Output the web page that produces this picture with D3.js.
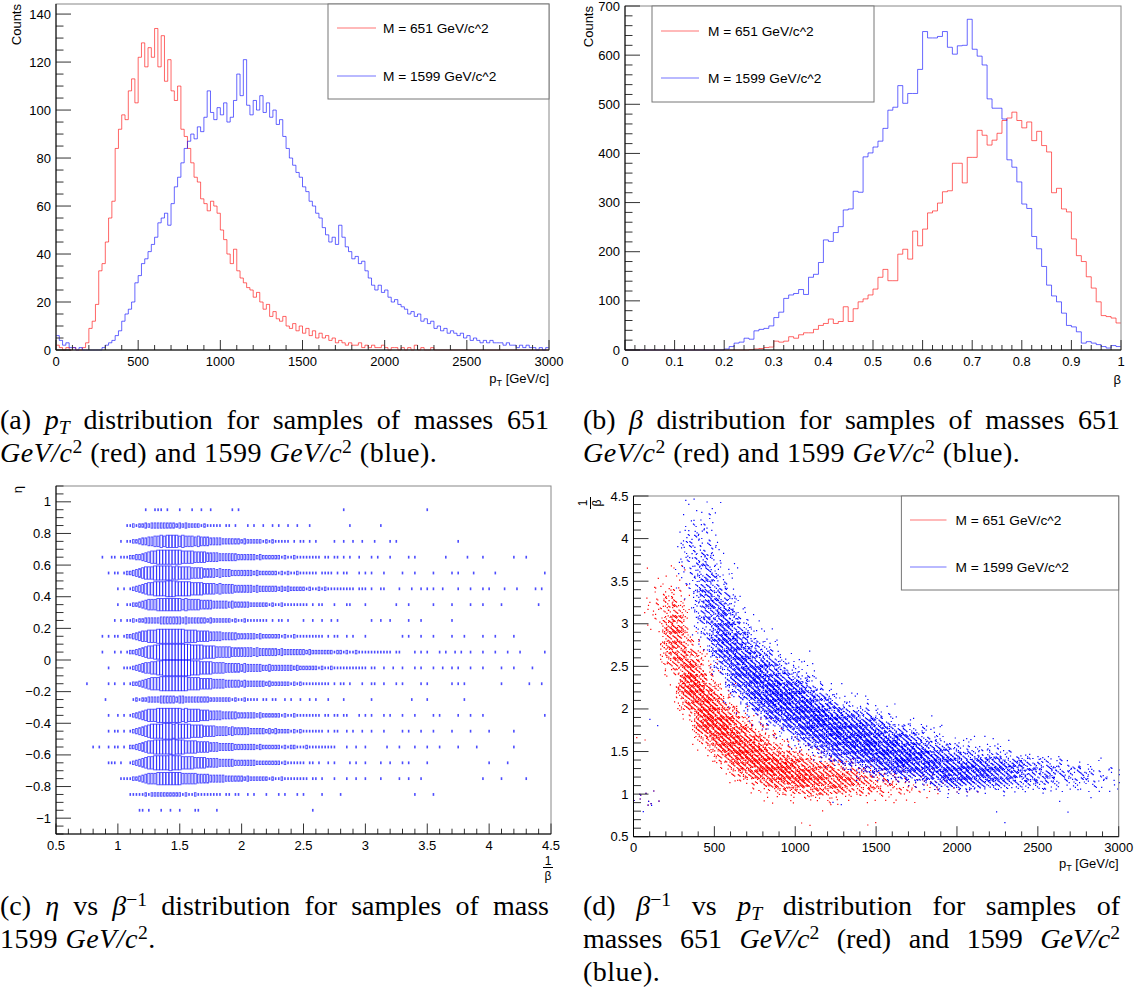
<!DOCTYPE html>
<html>
<head>
<meta charset="utf-8">
<script src="https://cdnjs.cloudflare.com/ajax/libs/d3/7.8.5/d3.min.js"></script>
<style>
  body { margin: 0; background: #fff; }
  #fig { position: relative; width: 1136px; height: 988px; overflow: hidden; background: #fff; }
  #fig svg { position: absolute; left: 0; top: 0; }
  .cap { position: absolute; font-family: "Liberation Serif", "Times New Roman", serif; font-size: 28px;
         line-height: 33px; white-space: nowrap; color: #000; }
  .cap.j { text-align: justify; text-align-last: justify; white-space: normal; }
  .cap sup { font-size: 70%; line-height: 0; vertical-align: 0.45em; }
  .cap sub { font-size: 70%; line-height: 0; vertical-align: -0.25em; }
  svg text { font-family: "Liberation Sans", Arial, sans-serif; fill: #000; }
</style>
</head>
<body>
<div id="fig">
  <div class="cap j" style="left:0;top:403px;width:549px">(a) <i>p<sub>T</sub></i> distribution for samples of masses 651</div>
  <div class="cap" style="left:0;top:436px;letter-spacing:0.5px"><i>GeV/c</i><sup>2</sup> (red) and 1599 <i>GeV/c</i><sup>2</sup> (blue).</div>
  <div class="cap j" style="left:583px;top:403px;width:537px">(b) <i>β</i> distribution for samples of masses 651</div>
  <div class="cap" style="left:583px;top:436px;letter-spacing:0.5px"><i>GeV/c</i><sup>2</sup> (red) and 1599 <i>GeV/c</i><sup>2</sup> (blue).</div>
  <div class="cap j" style="left:0;top:889px;width:549px">(c) <i>η</i> vs <i>β</i><sup>−1</sup> distribution for samples of mass</div>
  <div class="cap" style="left:0;top:922px;letter-spacing:0.5px">1599 <i>GeV/c</i><sup>2</sup>.</div>
  <div class="cap j" style="left:583px;top:889px;width:537px">(d) <i>β</i><sup>−1</sup> vs <i>p<sub>T</sub></i> distribution for samples of</div>
  <div class="cap j" style="left:583px;top:922px;width:537px">masses 651 <i>GeV/c</i><sup>2</sup> (red) and 1599 <i>GeV/c</i><sup>2</sup></div>
  <div class="cap" style="left:583px;top:955px;letter-spacing:0.5px">(blue).</div>
</div>
<script>
// ---- data ----

// (a) pT histograms, 20 GeV bins from 0 to 3000
const ptBinWidth = 20;
const ptRed = [
  2,1,0,1,0,1,0,0,1,3,
  9,12,19,33,36,45,55,62,84,92,
  98,96,108,113,103,122,128,118,126,122,
  134,118,131,112,121,108,104,110,92,89,
  84,78,72,70,63,61,58,62,60,57,
  50,46,40,36,42,33,30,28,26,25,
  22,24,20,17,19,14,16,13,12,14,
  10,9,11,8,10,7,9,6,8,5,
  7,5,6,4,5,3,4,3,2,3,
  2,2,3,1,2,1,2,1,1,2,
  1,0,1,1,0,1,0,1,0,2,
  0,1,0,0,1,0,0,0,0,0,
  0,0,0,0,0,0,0,0,0,0,
  0,0,0,0,0,0,0,0,0,0,
  0,0,0,0,0,0,0,0,0,0
];
const ptBlue = [
  6,4,2,3,1,1,0,1,0,0,
  0,0,0,0,1,2,3,4,6,8,
  12,15,17,20,28,31,36,38,41,44,
  47,53,55,57,52,61,68,72,78,84,
  87,90,88,93,91,97,108,99,96,101,
  98,103,95,97,104,115,106,121,102,98,
  104,100,106,99,103,97,100,94,96,89,
  84,80,77,74,72,68,66,62,60,57,
  55,51,48,45,47,44,52,47,43,41,
  38,39,36,37,33,30,27,25,27,24,
  25,22,20,21,19,18,17,15,16,14,
  15,12,13,11,12,9,10,8,9,7,
  8,7,6,7,5,6,4,5,4,3,
  4,3,4,3,3,3,2,3,2,2,
  1,2,1,2,1,1,0,1,0,1
];

// (b) beta histograms, 0.01 bins from 0 to 1
const betaBinWidth = 0.01;
const betaRed = [
  0,0,0,0,0,0,0,0,0,0,
  0,0,0,0,0,0,0,0,0,0,
  0,0,0,0,0,1,2,3,5,6,
  18,16,18,27,24,31,35,35,42,50,
  54,63,54,58,88,58,84,98,104,112,
  124,148,164,141,141,195,205,185,242,212,
  246,279,283,299,322,324,380,380,340,392,
  392,447,437,417,427,441,467,472,484,467,
  452,464,426,445,416,403,320,329,287,281,
  226,192,180,149,126,98,70,68,65,55
];
const betaBlue = [
  0,0,0,0,0,0,0,0,0,0,
  0,0,0,0,0,0,0,0,0,0,
  2,7,14,16,24,22,39,42,44,49,
  66,77,105,112,115,123,113,148,154,178,
  224,221,239,251,285,287,323,321,393,401,
  413,425,451,488,494,538,502,522,522,571,
  648,635,635,638,648,616,602,619,620,673,
  612,598,580,511,492,492,470,387,372,342,
  297,288,231,206,170,132,110,98,75,50,
  47,37,14,17,14,11,7,4,9,7
];

// (c) eta vs 1/beta box histogram: rows of 0.1 in eta, cells of 0.025 in 1/beta
// box level 0-9 per cell (9 = fullest); dense part as digit string, sparse cells as positions
const etaRows = [0.95,0.85,0.75,0.65,0.55,0.45,0.35,0.25,0.15,0.05,
                 -0.05,-0.15,-0.25,-0.35,-0.45,-0.55,-0.65,-0.75,-0.85,-0.95];
const invBetaCell = 0.025;
const etaCoreStart = [null,1.075,1.025,1.075,1.05,1.1,1.1,1.1,1.05,1.075,
                      1.05,1.1,1.125,1.1,1.1,1.1,1.1,1.075,1.1,null];
const etaCoreLevels = [
  "",
  "11212 2323 3333 3332 3232 2221 2111 1101 1010",
  "10112234 4556 6767 7776 7666 5655 5444 4333 3332 3222 2212 1211 1110 1011 0101",
  "12233 4567 7888 8888 8777 7666 6555 5444 4443 3333 3232 2222 2121 1211 1111 1101 1011 0101",
  "1223 45 6777 8888 8878 7777 6666 5555 4544 4333 3333 2322 2222 1212 1121 1111 1011 1101 0110",
  "12 34 5677 8888 9998 8888 7777 6666 5655 5544 4444 3433 3333 2323 2222 2121 1212 1111 1111 1011 1010 0110",
  "1223 4566 6777 7777 7676 6665 5554 4444 3433 3332 2222 2121 1211 1111 1101 0110",
  "1212 2333 3344 4444 4343 3333 3232 2222 2121 1211 1111 1010 1101",
  "1223 45 6677 7888 8888 8877 7766 6655 5544 4443 3333 3232 2222 2121 1211 1111 1110 1011",
  "12234 5677 8899 9999 9999 8888 7777 6666 6555 5555 4544 4444 3433 3333 3232 2222 2212 2121 1211 1111 1111 1011",
  "1112 34 5667 7889 9999 9999 8887 7776 6665 5555 4544 4443 3433 3333 3232 2222 2121 1211 1111 1111 1011",
  "1223 4567 7788 8888 8887 7776 6665 5554 4444 3433 3333 2322 2222 1212 1111 1111 1010 1101",
  "1212 233 3344 4443 4433 3333 3322 2222 2121 1211 1101 1011",
  "1234 5677 7888 8888 8787 7776 6655 5544 4443 3333 3232 2222 2121 1211 1111 1101 1011 0110",
  "1234 5678 8889 9989 8888 7777 6666 5555 4544 4443 3333 2323 2222 1212 1111 1110 1011",
  "2234 5677 8888 8898 8877 7766 6655 5444 4433 3333 3232 2222 2121 2211 1211 1111 1110",
  "1234 5677 8888 8988 8777 7666 6555 5444 4433 3333 3222 2222 2121 1111 1011",
  "11223 4566 6777 7777 7666 6655 5544 4443 3333 3232 2222 2121 1211 1111 1101 1010",
  "1111 1212 2222 2222 2121 1211 1111 1101 1011",
  ""
];
const etaSparse = [
  [1.225,1.3,1.325,1.35,1.4,1.5,1.6,1.675,1.75,1.925,1.975,2.825,3.5],
  [2.05,2.1,2.175,2.25,2.3,2.375,2.45,2.55,2.875,3.125],
  [2.75,2.825,2.9,2.975,3.075,3.2,3.25,3.75],
  [0.875,0.95,0.975,1.025,1.05,2.95,3.05,3.1,3.2,3.35,3.4,3.65,3.825,3.95,4.2,4.3],
  [0.925,0.975,1.0,2.95,3.0,3.05,3.15,3.3,3.4,3.55,3.7,3.75,3.875,4.05,4.45],
  [1.0,1.05,3.275,3.375,3.45,3.5,3.55,3.625,3.75,3.85,3.95,4.0,4.125,4.225,4.375,4.425],
  [1.0,1.075,2.75,2.85,2.875,3.0,3.25,3.35,3.55,3.7,3.85,3.95,4.1,4.4],
  [0.975,1.025,1.075,2.5,2.575,2.65,2.725,2.775,3.05,3.125,3.2,3.35,3.45,3.7],
  [0.875,0.925,0.975,1.0,2.85,2.9,3.0,3.3,3.35,3.45,3.55,3.7,3.8,3.95,4.05,4.2],
  [0.875,0.975,1.025,3.4,3.45,3.5,3.6,3.65,3.725,3.775,3.85,3.95,4.05,4.15,4.25,4.45],
  [0.925,3.15,3.225,3.3,3.4,3.45,3.55,3.625,3.7,3.75,3.85,3.95,4.1,4.2,4.35],
  [0.75,0.925,0.975,1.05,2.975,3.05,3.075,3.15,3.25,3.3,3.45,3.5,3.7,3.75,3.8,4.1,4.325,4.425],
  [0.9,2.35,2.4,2.475,2.55,2.6,2.7,2.825,3.05,3.375,3.5,3.8],
  [0.925,1.0,1.05,2.95,3.0,3.05,3.15,3.2,3.3,3.4,3.55,3.6,3.75,3.85,3.95,4.45],
  [0.925,0.975,1.0,1.05,2.85,2.9,2.975,3.05,3.15,3.3,3.35,3.45,3.55,3.7,3.85,4.0,4.2],
  [0.8,0.85,0.925,0.975,1.0,1.05,2.85,2.925,3.0,3.175,3.275,3.4,3.5,3.6,3.75,3.9,4.2],
  [0.925,0.95,0.975,1.025,2.625,2.7,2.75,2.875,2.925,3.0,3.125,3.2,3.3,3.35,3.5,4.0,4.15],
  [1.025,1.05,2.75,2.85,2.925,3.0,3.125,3.275,3.35,3.45,3.95,4.1,4.3],
  [2.05,2.1,2.2,2.3,2.35,2.45,2.5,2.65,2.8,3.4,3.55],
  [1.175,1.2,1.25,1.35,1.425,1.5,1.625,1.65,1.8,2.575]
];

// (d) 1/beta vs pT: density level (0-9) per cell of 100 GeV x 0.1, [pT start, 1/beta start, levels upward]
const scatterCellPt = 100, scatterCellInv = 0.1;
const scatterRed = [
  [0,0.9,"21"],[0,1.6,"1"],[100,0.9,"1"],[100,2.9,"12232111"],
  [200,2.3,"13567776543211"],[300,1.8,"136899875321"],[400,1.5,"1489998643211"],
  [500,1.3,"25899975321"],[600,1.1,"1479987531"],[700,1.0,"1479986421"],
  [800,0.9,"1369975321"],[900,0.9,"147985311"],[1000,0.6,"1"],[1000,0.9,"15886421"],
  [1100,0.8,"12577521"],[1200,0.9,"2576421"],[1300,0.9,"146531"],[1400,0.6,"1"],
  [1400,0.9,"14542"],[1500,0.9,"13431"],[1600,0.9,"13321"],[1700,0.9,"1232"],
  [1800,1.0,"221"],[1900,1.0,"121"],[2000,1.0,"11"],[2100,1.0,"1"]
];
const scatterBlue = [
  [0,0.8,"121"],[100,0.9,"1"],[100,1.8,"1"],[300,3.3,"122333332111"],
  [400,2.7,"134556655443322211"],[500,2.3,"1357887765432211"],[600,2.0,"13588887653211"],
  [700,1.8,"1368898764211"],[800,1.7,"1479998653211"],[900,1.6,"14799986421"],
  [1000,1.5,"258999864211"],[1100,1.4,"2589997531"],[1200,0.8,"1"],[1200,1.3,"2689997421"],
  [1300,1.2,"1479997521"],[1400,1.2,"3699986421"],[1500,1.1,"1589986421"],
  [1600,1.1,"26999752"],[1700,1.1,"37898531"],[1800,1.0,"148885321"],[1900,1.0,"2798642"],
  [2000,1.0,"2788531"],[2100,1.0,"2688421"],[2200,0.7,"1"],[2200,1.0,"267742"],
  [2300,1.0,"156631"],[2400,1.0,"14552"],[2500,1.0,"24541"],[2600,0.8,"1"],
  [2600,1.0,"13431"],[2700,1.0,"1342"],[2800,1.0,"1331"],[2900,1.0,"1221"]
];
const dotsPerLevel = [0,2,6,13,23,35,50,67,86,108];

const legendLabels = ["M = 651 GeV/c^2", "M = 1599 GeV/c^2"];
const RED = "#ff0000", BLUE = "#0000ff";

// ---- drawing ----
const svg = d3.select("#fig").insert("svg", ":first-child")
  .attr("width", 1136).attr("height", 988);

function tickList(dom, step, minor) {
  const out = [];
  const n0 = Math.ceil(dom[0] / minor - 1e-6), n1 = Math.floor(dom[1] / minor + 1e-6);
  for (let i = n0; i <= n1; i++) {
    const v = +(i * minor).toFixed(6);
    out.push({ v, maj: Math.abs(v / step - Math.round(v / step)) < 1e-6 });
  }
  return out;
}

function drawFrameAxes(g, x, y, o) {
  const [x0, x1] = x.range(), [yb, yt] = y.range();
  g.append("rect").attr("x", x0).attr("y", yt).attr("width", x1 - x0).attr("height", yb - yt)
    .attr("fill", "none").attr("stroke", "#888");

  const xt = tickList(x.domain(), o.xMaj, o.xMin);
  g.append("g").selectAll("line").data(xt).join("line")
    .attr("x1", d => x(d.v)).attr("x2", d => x(d.v))
    .attr("y1", yb).attr("y2", d => yb - (d.maj ? o.xLen[0] : o.xLen[1]))
    .attr("stroke", "#333");
  g.append("g").selectAll("text").data(xt.filter(d => d.maj)).join("text")
    .attr("x", d => x(d.v)).attr("y", yb + 15.5).attr("text-anchor", "middle")
    .attr("font-size", 13).text(d => o.xFmt(d.v));

  const yt2 = tickList(y.domain(), o.yMaj, o.yMin);
  g.append("g").selectAll("line").data(yt2).join("line")
    .attr("y1", d => y(d.v)).attr("y2", d => y(d.v))
    .attr("x1", x0).attr("x2", d => x0 + (d.maj ? o.yLen[0] : o.yLen[1]))
    .attr("stroke", "#333");
  g.append("g").selectAll("text").data(yt2.filter(d => d.maj)).join("text")
    .attr("x", x0 - 5).attr("y", d => y(d.v) + 4.5).attr("text-anchor", "end")
    .attr("font-size", 13).text(d => o.yFmt(d.v));

  g.append("line").attr("x1", x0).attr("x2", x1).attr("y1", yb).attr("y2", yb).attr("stroke", "#000");
  g.append("line").attr("x1", x0).attr("x2", x0).attr("y1", yb).attr("y2", yt).attr("stroke", "#000");
}

const fmtNum = v => (v < 0 ? "\u2212" : "") + d3.format("~g")(Math.abs(v));

function histPath(vals, x, y, w) {
  const p = d3.path();
  vals.forEach((v, i) => {
    const xa = x(i * w), xb = x((i + 1) * w), yy = y(v);
    if (i === 0) p.moveTo(xa, yy); else p.lineTo(xa, yy);
    p.lineTo(xb, yy);
  });
  return p.toString();
}

function legend(g, box, lineX, textX, rows) {
  g.append("rect").attr("x", box[0]).attr("y", box[1]).attr("width", box[2] - box[0])
    .attr("height", box[3] - box[1]).attr("fill", "#fff").attr("stroke", "#777");
  rows.forEach(r => {
    g.append("line").attr("x1", lineX[0]).attr("x2", lineX[1]).attr("y1", r.y).attr("y2", r.y)
      .attr("stroke", r.c).attr("stroke-opacity", 0.55);
    g.append("text").attr("x", textX).attr("y", r.y + 5).attr("font-size", 13.7).text(r.t);
  });
}

function yTitle(g, x, y, txt) {
  g.append("text").attr("transform", `translate(${x},${y}) rotate(-90)`)
    .attr("text-anchor", "end").attr("font-size", 13).text(txt);
}

function ptTitle(g, x, y) {
  const t = g.append("text").attr("x", x).attr("y", y).attr("text-anchor", "end").attr("font-size", 13);
  t.append("tspan").text("p");
  t.append("tspan").attr("dy", 3).attr("font-size", 9).text("T");
  t.append("tspan").attr("dy", -3).text(" [GeV/c]");
}

/* ---------- (a) pT ---------- */
{
  const g = svg.append("g");
  const x = d3.scaleLinear().domain([0, 3000]).range([56, 549]);
  const y = d3.scaleLinear().domain([0, 144.2]).range([350, 4]);
  g.append("path").attr("d", histPath(ptRed, x, y, ptBinWidth)).attr("fill", "none")
    .attr("stroke", RED).attr("stroke-opacity", 0.6);
  g.append("path").attr("d", histPath(ptBlue, x, y, ptBinWidth)).attr("fill", "none")
    .attr("stroke", BLUE).attr("stroke-opacity", 0.6);
  drawFrameAxes(g, x, y, { xMaj: 500, xMin: 100, yMaj: 20, yMin: 5, xLen: [10, 5], yLen: [15, 7.5],
    xFmt: fmtNum, yFmt: fmtNum });
  legend(g, [328, 4, 549, 99], [337, 376], 383,
    [{ y: 28, c: RED, t: legendLabels[0] }, { y: 76, c: BLUE, t: legendLabels[1] }]);
  yTitle(g, 21, 4, "Counts");
  ptTitle(g, 549, 383);
}

/* ---------- (b) beta ---------- */
{
  const g = svg.append("g");
  const x = d3.scaleLinear().domain([0, 1]).range([625, 1121]);
  const y = d3.scaleLinear().domain([0, 700]).range([350, 6]);
  g.append("path").attr("d", histPath(betaRed, x, y, betaBinWidth)).attr("fill", "none")
    .attr("stroke", RED).attr("stroke-opacity", 0.6);
  g.append("path").attr("d", histPath(betaBlue, x, y, betaBinWidth)).attr("fill", "none")
    .attr("stroke", BLUE).attr("stroke-opacity", 0.6);
  drawFrameAxes(g, x, y, { xMaj: 0.1, xMin: 0.02, yMaj: 100, yMin: 20, xLen: [10, 5], yLen: [15, 7.5],
    xFmt: fmtNum, yFmt: fmtNum });
  legend(g, [652, 6, 874, 102], [661, 699], 708,
    [{ y: 31, c: RED, t: legendLabels[0] }, { y: 78, c: BLUE, t: legendLabels[1] }]);
  yTitle(g, 593, 6, "Counts");
  g.append("text").attr("x", 1121).attr("y", 384).attr("text-anchor", "end").attr("font-size", 13).text("β");
}

/* ---------- (c) eta vs 1/beta ---------- */
{
  const g = svg.append("g");
  const x = d3.scaleLinear().domain([0.5, 4.5]).range([56, 551]);
  const y = d3.scaleLinear().domain([-1.1, 1.1]).range([834, 486]);
  const cw = x(invBetaCell) - x(0), ch = y(0) - y(0.1);
  const cells = [];
  etaRows.forEach((eta, r) => {
    if (etaCoreStart[r] !== null) {
      const s = etaCoreLevels[r].replace(/\s/g, "");
      for (let k = 0; k < s.length; k++) {
        const lev = +s[k];
        if (lev > 0) cells.push({ b: etaCoreStart[r] + k * invBetaCell, e: eta, l: lev });
      }
    }
    etaSparse[r].forEach(b => cells.push({ b, e: eta, l: 1 }));
  });
  g.append("g").selectAll("rect").data(cells).join("rect")
    .attr("x", d => x(d.b) - Math.max(1.6, cw * d.l / 9) / 2)
    .attr("y", d => y(d.e) - Math.max(2.8, ch * d.l / 9) / 2)
    .attr("width", d => Math.max(1.6, cw * d.l / 9))
    .attr("height", d => Math.max(2.8, ch * d.l / 9))
    .attr("fill", d => d.l <= 1 ? BLUE : "none")
    .attr("fill-opacity", 0.7)
    .attr("stroke", d => d.l <= 1 ? "none" : BLUE)
    .attr("stroke-opacity", 0.7).attr("stroke-width", 0.9);
  drawFrameAxes(g, x, y, { xMaj: 0.5, xMin: 0.1, yMaj: 0.2, yMin: 0.05, xLen: [10.5, 5.3], yLen: [15, 7.5],
    xFmt: fmtNum, yFmt: fmtNum });
  yTitle(g, 22, 486, "η");
  g.append("text").attr("x", 548).attr("y", 865).attr("text-anchor", "middle").attr("font-size", 12).text("1");
  g.append("line").attr("x1", 543).attr("x2", 553).attr("y1", 867.5).attr("y2", 867.5).attr("stroke", "#000");
  g.append("text").attr("x", 548).attr("y", 880).attr("text-anchor", "middle").attr("font-size", 12).text("β");
}

/* ---------- (d) 1/beta vs pT ---------- */
{
  const g = svg.append("g");
  const x = d3.scaleLinear().domain([0, 3000]).range([633.5, 1118.7]);
  const y = d3.scaleLinear().domain([0.5, 4.5]).range([836.7, 496]);
  const frac = v => v - Math.floor(v);
  // each cell's dots are spread with a triangular kernel over twice the cell size,
  // placed on a low-discrepancy sequence, so neighbouring cells blend
  const a = [0.8566748839, 0.7338918999, 0.6287067545, 0.5385972763];
  function dots(cols) {
    let d = "";
    cols.forEach(([p0, y0, s]) => {
      for (let k = 0; k < s.length; k++) {
        const n = dotsPerLevel[+s[k]];
        const yc = y0 + k * scatterCellInv;
        const h = [frac(p0 * 0.00731 + yc * 0.917 + 0.13), frac(p0 * 0.00437 + yc * 1.618 + 0.71),
                   frac(p0 * 0.00913 + yc * 2.331 + 0.37), frac(p0 * 0.00571 + yc * 0.473 + 0.59)];
        for (let j = 1; j <= n; j++) {
          const u = frac(h[0] + j * a[0]) + frac(h[2] + j * a[2]) - 0.5;
          const v = frac(h[1] + j * a[1]) + frac(h[3] + j * a[3]) - 0.5;
          const pt = Math.max(0, Math.min(3000, p0 + u * scatterCellPt));
          const iv = Math.max(0.5, Math.min(4.47, yc + v * scatterCellInv));
          d += `M${x(pt).toFixed(1)},${y(iv).toFixed(1)}h1.2v1.2h-1.2z`;
        }
      }
    });
    return d;
  }
  g.append("path").attr("d", dots(scatterRed)).attr("fill", RED);
  g.append("path").attr("d", dots(scatterBlue)).attr("fill", BLUE);
  drawFrameAxes(g, x, y, { xMaj: 500, xMin: 100, yMaj: 0.5, yMin: 0.1, xLen: [10.5, 5.3], yLen: [15, 7.5],
    xFmt: fmtNum, yFmt: fmtNum });
  legend(g, [901.4, 496, 1118.7, 590], [910, 946.5], 955.6,
    [{ y: 520, c: RED, t: legendLabels[0] }, { y: 567, c: BLUE, t: legendLabels[1] }]);
  ptTitle(g, 1118.7, 868);
  const t = g.append("g").attr("transform", "translate(590,497) rotate(-90)");
  t.append("text").attr("x", -6).attr("y", -3).attr("text-anchor", "middle").attr("font-size", 12).text("1");
  t.append("line").attr("x1", -12).attr("x2", 0).attr("y1", 0.5).attr("y2", 0.5).attr("stroke", "#000");
  t.append("text").attr("x", -6).attr("y", 11).attr("text-anchor", "middle").attr("font-size", 12).text("β");
}
</script>
</body>
</html>
